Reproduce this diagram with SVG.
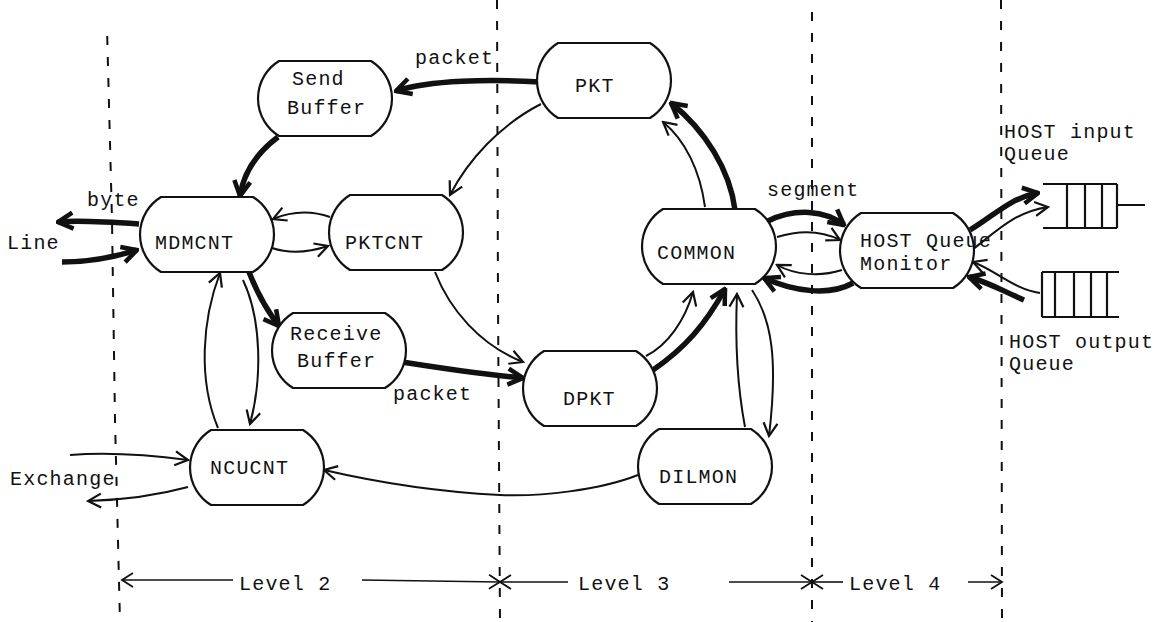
<svg xmlns="http://www.w3.org/2000/svg" xmlns:xlink="http://www.w3.org/1999/xlink" width="1170" height="622" viewBox="0 0 1170 622">
  <style>
    .t { font-family: "Liberation Mono", "DejaVu Sans Mono", monospace; font-size: 20px; letter-spacing: 1.2px; fill: #111; }
    .box { fill: #fff; stroke: #111; stroke-width: 2.2; }
    .thin { fill: none; stroke: #111; stroke-width: 2; marker-end: url(#open); }
    .thick { fill: none; stroke: #111; stroke-width: 5.5; marker-end: url(#bold); }
    .lvl { fill: none; stroke: #111; stroke-width: 1.6; marker-end: url(#lv); }
    .div { fill: none; stroke: #111; stroke-width: 2; stroke-dasharray: 9 12; }
    .q { fill: none; stroke: #111; stroke-width: 2.2; }
  </style>
  <defs>
    <!-- process box: flat top and bottom, circular-arc sides, 134 x 75 -->
    <path id="node" d="M21,0 H113 A44,44 0 0 1 113,75 H21 A44,44 0 0 1 21,0 Z"/>
    <marker id="open" viewBox="-15 -9 17 18" refX="0" refY="0" markerWidth="17" markerHeight="18" markerUnits="userSpaceOnUse" orient="auto">
      <path d="M-13,-7 L0,0 L-13,7" fill="none" stroke="#111" stroke-width="2.2"/>
    </marker>
    <marker id="bold" viewBox="-18 -11 20 22" refX="0" refY="0" markerWidth="20" markerHeight="22" markerUnits="userSpaceOnUse" orient="auto">
      <path d="M-15,-8 L0,0 L-15,8" fill="none" stroke="#111" stroke-width="4.5"/>
    </marker>
    <marker id="lv" viewBox="-13 -8 15 16" refX="0" refY="0" markerWidth="15" markerHeight="16" markerUnits="userSpaceOnUse" orient="auto">
      <path d="M-11,-7 L0,0 L-11,7" fill="none" stroke="#111" stroke-width="1.8"/>
    </marker>
  </defs>

  <rect width="1170" height="622" fill="#fff"/>

  <!-- level boundaries -->
  <g id="boundaries">
    <path class="div" stroke-dashoffset="-8" d="M107,28 L112,220 L115,420 L120,622"/>
    <path class="div" d="M497,0 L498,300 L500,622"/>
    <path class="div" d="M812,12 L812,622"/>
    <path class="div" d="M1001,0 L1002,622"/>
  </g>

  <!-- connectors -->
  <g id="connectors">
    <path class="thick" d="M540,82 C490,79 430,80 396,91"/>
    <path class="thick" d="M278,137 C258,152 244,170 240,196"/>
    <path class="thick" d="M139,224 C110,222 80,220 58,222"/>
    <path class="thick" d="M62,262 C90,262 115,257 137,250"/>
    <path class="thick" d="M249,272 C256,290 265,308 279,326"/>
    <path class="thick" d="M402,362 C440,368 480,374 523,378"/>
    <path class="thick" d="M653,370 C685,348 705,325 725,289"/>
    <path class="thick" d="M735,210 C730,170 705,130 671,103"/>
    <path class="thick" d="M768,221 C795,208 825,210 844,225"/>
    <path class="thick" d="M853,283 C830,296 795,292 764,278"/>
    <path class="thick" d="M970,230 C995,215 1010,198 1038,193"/>
    <path class="thick" d="M1024,300 C1005,292 990,283 969,277"/>

    <path class="thin" d="M541,104 C500,125 468,160 450,195"/>
    <path class="thin" d="M330,217 C310,210 290,212 273,219"/>
    <path class="thin" d="M272,248 C290,254 310,252 328,246"/>
    <path class="thin" d="M243,280 C262,320 262,380 250,424"/>
    <path class="thin" d="M218,428 C198,380 202,320 220,273"/>
    <path class="thin" d="M435,272 C450,310 480,345 523,362"/>
    <path class="thin" d="M646,356 C668,345 685,320 693,292"/>
    <path class="thin" d="M705,207 C700,170 685,140 663,122"/>
    <path class="thin" d="M745,427 C738,390 735,340 737,294"/>
    <path class="thin" d="M752,290 C772,320 778,360 769,436"/>
    <path class="thin" d="M777,237 C800,230 820,230 840,240"/>
    <path class="thin" d="M842,270 C820,277 795,275 777,265"/>
    <path class="thin" d="M972,250 C998,230 1015,212 1048,207"/>
    <path class="thin" d="M1040,293 C1015,290 995,270 973,262"/>
    <path class="thin" d="M70,455 C110,452 150,455 188,460"/>
    <path class="thin" d="M188,487 C155,496 120,500 88,501"/>
    <path class="thin" d="M638,475 C600,490 540,497 500,495 C440,492 380,483 324,470"/>
  </g>

  <!-- nodes -->
  <g id="send-buffer">
    <use xlink:href="#node" class="box" x="258" y="61"/>
    <text class="t" x="292" y="85">Send</text>
    <text class="t" x="287" y="114">Buffer</text>
  </g>
  <g id="pkt">
    <use xlink:href="#node" class="box" x="537" y="43"/>
    <text class="t" x="575" y="92">PKT</text>
  </g>
  <g id="mdmcnt">
    <use xlink:href="#node" class="box" x="140" y="197"/>
    <text class="t" x="155" y="249">MDMCNT</text>
  </g>
  <g id="pktcnt">
    <use xlink:href="#node" class="box" x="329" y="195"/>
    <text class="t" x="345" y="249">PKTCNT</text>
  </g>
  <g id="common">
    <use xlink:href="#node" class="box" x="642" y="209"/>
    <text class="t" x="657" y="259">COMMON</text>
  </g>
  <g id="host-queue-monitor">
    <use xlink:href="#node" class="box" x="840" y="213"/>
    <text class="t" x="860" y="247">HOST Queue</text>
    <text class="t" x="860" y="270">Monitor</text>
  </g>
  <g id="receive-buffer">
    <use xlink:href="#node" class="box" x="272" y="313"/>
    <text class="t" x="290" y="340">Receive</text>
    <text class="t" x="297" y="367">Buffer</text>
  </g>
  <g id="dpkt">
    <use xlink:href="#node" class="box" x="523" y="351"/>
    <text class="t" x="563" y="405">DPKT</text>
  </g>
  <g id="dilmon">
    <use xlink:href="#node" class="box" x="638" y="429"/>
    <text class="t" x="659" y="483">DILMON</text>
  </g>
  <g id="ncucnt">
    <use xlink:href="#node" class="box" x="190" y="430"/>
    <text class="t" x="210" y="474">NCUCNT</text>
  </g>

  <!-- host queues -->
  <g id="host-input-queue">
    <path class="q" d="M1043,184 H1117 M1043,228 H1117 M1067,184 V228 M1085,184 V228 M1102,184 V228 M1117,184 V228 M1117,205 H1145"/>
    <text class="t" x="1004" y="138">HOST input</text>
    <text class="t" x="1004" y="160">Queue</text>
  </g>
  <g id="host-output-queue">
    <path class="q" d="M1042,272 H1119 M1042,317 H1119 M1042,272 V317 M1055,272 V317 M1074,272 V317 M1091,272 V317 M1107,272 V317"/>
    <text class="t" x="1009" y="348">HOST output</text>
    <text class="t" x="1009" y="370">Queue</text>
  </g>

  <!-- connector labels and outside endpoints -->
  <g id="labels">
    <text class="t" x="415" y="64">packet</text>
    <text class="t" x="393" y="400">packet</text>
    <text class="t" x="87" y="206">byte</text>
    <text class="t" x="7" y="249">Line</text>
    <text class="t" x="767" y="196">segment</text>
    <text class="t" x="10" y="485">Exchange</text>
  </g>

  <!-- level spans -->
  <g id="levels">
    <path class="lvl" d="M233,580 L122,580"/>
    <text class="t" x="239" y="590">Level 2</text>
    <path class="lvl" d="M362,580 L500,582"/>
    <path class="lvl" d="M568,582 L500,582"/>
    <text class="t" x="578" y="590">Level 3</text>
    <path class="lvl" d="M729,582 L812,582"/>
    <path class="lvl" d="M843,582 L812,582"/>
    <text class="t" x="849" y="590">Level 4</text>
    <path class="lvl" d="M968,582 L1002,582"/>
  </g>
</svg>
